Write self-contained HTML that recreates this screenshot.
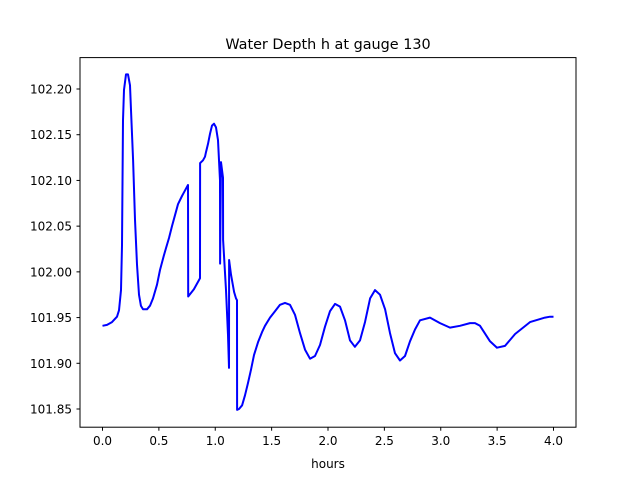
<!DOCTYPE html>
<html><head><meta charset="utf-8"><style>
body{margin:0;background:#fff;}
svg text{font-family:"DejaVu Sans","Liberation Sans",sans-serif;}
</style></head><body>
<svg id="chart" width="640" height="480">
<rect width="640" height="480" fill="#fff"/>
<text x="328" y="49" text-anchor="middle" font-size="14.4">Water Depth h at gauge 130</text>
<g id="xt"></g><g id="yt"></g>
<path id="line" fill="none" stroke="#0000ff" stroke-width="2" stroke-linejoin="round"/>
<rect x="80" y="57.6" width="496" height="369.6" fill="none" stroke="#000" stroke-width="1"/>
<text x="328" y="468" text-anchor="middle" font-size="12">hours</text>
</svg>
<script>
const hours=[0.00,0.04,0.084,0.129,0.146,0.164,0.173,0.182,0.191,0.208,0.226,0.244,0.253,0.271,0.288,0.306,0.324,0.341,0.359,0.395,0.421,0.448,0.483,0.510,0.545,0.563,0.590,0.616,0.643,0.670,0.705,0.723,0.758,0.760,0.811,0.865,0.866,0.891,0.909,0.918,0.936,0.953,0.971,0.989,1.007,1.024,1.042,1.043,1.051,1.069,1.070,1.078,1.095,1.113,1.122,1.123,1.140,1.167,1.184,1.193,1.194,1.211,1.238,1.264,1.290,1.317,1.344,1.379,1.415,1.441,1.486,1.530,1.574,1.619,1.663,1.707,1.752,1.796,1.840,1.885,1.929,1.973,2.018,2.062,2.106,2.151,2.195,2.239,2.284,2.328,2.373,2.417,2.461,2.506,2.550,2.594,2.639,2.683,2.727,2.772,2.816,2.905,2.993,3.082,3.171,3.259,3.304,3.348,3.437,3.499,3.570,3.659,3.792,3.925,3.969,4.0];
const depth=[101.941,101.942,101.945,101.951,101.958,101.980,102.029,102.166,102.199,102.216,102.216,102.204,102.177,102.122,102.057,102.008,101.975,101.963,101.959,101.959,101.963,101.971,101.986,102.002,102.018,102.026,102.037,102.050,102.062,102.074,102.083,102.087,102.095,101.973,101.981,101.993,102.119,102.122,102.126,102.131,102.140,102.151,102.160,102.162,102.158,102.144,102.100,102.009,102.120,102.103,102.035,102.018,101.980,101.931,101.895,102.013,101.997,101.978,101.971,101.969,101.849,101.850,101.854,101.865,101.878,101.893,101.909,101.923,101.934,101.941,101.950,101.957,101.964,101.966,101.964,101.953,101.933,101.915,101.905,101.908,101.920,101.940,101.957,101.965,101.962,101.947,101.925,101.918,101.925,101.945,101.971,101.980,101.975,101.959,101.933,101.911,101.903,101.908,101.924,101.937,101.947,101.950,101.944,101.939,101.941,101.944,101.944,101.941,101.924,101.917,101.919,101.932,101.945,101.950,101.951,101.951];
const xTicks=[0,0.5,1,1.5,2,2.5,3,3.5,4];
const xTickLabels=["0.0","0.5","1.0","1.5","2.0","2.5","3.0","3.5","4.0"];
const yTicks=[101.85,101.90,101.95,102.00,102.05,102.10,102.15,102.20];
const yTickLabels=["101.85","101.90","101.95","102.00","102.05","102.10","102.15","102.20"];
const X=h=>102.5+h*112.75;
const Y=v=>89+(102.20-v)*914.3;
const NS="http://www.w3.org/2000/svg";
const xt=document.getElementById('xt'), yt=document.getElementById('yt');
xTicks.forEach((t,i)=>{
  const l=document.createElementNS(NS,'line');
  l.setAttribute('x1',X(t));l.setAttribute('x2',X(t));l.setAttribute('y1',427.2);l.setAttribute('y2',430.7);l.setAttribute('stroke','#000');
  
  
  xt.appendChild(l);
  const tx=document.createElementNS(NS,'text');
  tx.setAttribute('x',X(t));tx.setAttribute('y',445);tx.setAttribute('text-anchor','middle');tx.setAttribute('font-size','12');
  tx.textContent=xTickLabels[i];
  
  
  xt.appendChild(tx);
});
yTicks.forEach((t,i)=>{
  const l=document.createElementNS(NS,'line');
  l.setAttribute('x1',76.5);l.setAttribute('x2',80);l.setAttribute('y1',Y(t));l.setAttribute('y2',Y(t));l.setAttribute('stroke','#000');
  
  
  yt.appendChild(l);
  const tx=document.createElementNS(NS,'text');
  tx.setAttribute('x',72);tx.setAttribute('y',Y(t)+4.5);tx.setAttribute('text-anchor','end');tx.setAttribute('font-size','12');
  tx.textContent=yTickLabels[i];
  
  
  yt.appendChild(tx);
});
document.getElementById('line').setAttribute('d',hours.map((h,i)=>(i?'L':'M')+X(h).toFixed(1)+' '+Y(depth[i]).toFixed(1)).join(' '));
</script>
</body></html>
